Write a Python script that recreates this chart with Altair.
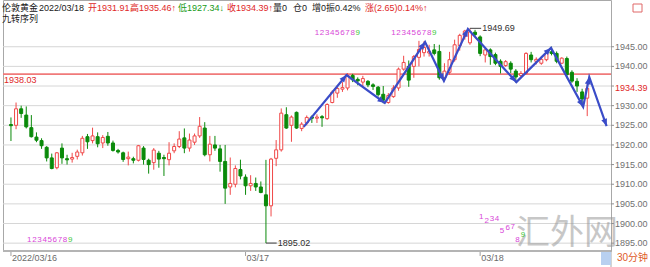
import math
import altair as alt
import pandas as pd

# ---------------- data ----------------
idx = list(range(114))
opens = [1925.2, 1925.0, 1929.2, 1927.6, 1924.4, 1922.0, 1921.1, 1919.4, 1916.7, 1914.2,
         1919.2, 1916.5, 1916.4, 1917.1, 1918.0, 1922.1, 1921.1, 1922.1, 1920.5, 1922.2,
         1920.5, 1918.6, 1918.0, 1916.5, 1916.5, 1916.1, 1919.2, 1916.1, 1915.5, 1917.9,
         1916.8, 1916.25, 1918.5, 1919.6, 1921.8, 1919.2, 1920.7, 1922.3, 1924.3, 1917.5,
         1920.0, 1919.0, 1915.8, 1909.3, 1910.0, 1913.75, 1911.8, 1909.6, 1910.2, 1909.3,
         1907.3, 1904.5, 1916.6, 1918.75, 1927.7, 1925.0, 1928.3, 1924.2, 1925.6, 1927.1,
         1926.8, 1927.2, 1926.7, 1930.8, 1933.2, 1934.2, 1934.5, 1937.7, 1936.7, 1936.0,
         1936.2, 1935.3, 1934.7, 1932.9, 1930.8, 1932.3, 1934.5, 1939.3, 1940.0, 1940.0,
         1942.3, 1943.5, 1943.4, 1944.2, 1943.8, 1937.1, 1938.5, 1941.7, 1945.3, 1947.6,
         1946.0, 1948.7, 1947.5, 1942.9, 1944.2, 1943.0, 1941.3, 1940.2, 1940.8, 1938.8,
         1937.7, 1938.2, 1942.9, 1941.3, 1940.8, 1941.7, 1943.7, 1943.3, 1940.8, 1942.0,
         1938.5, 1936.2, 1933.5, 1931.91]
highs = [1927.0, 1930.8, 1930.0, 1929.8, 1927.6, 1923.2, 1921.7, 1919.7, 1917.8, 1918.2,
         1920.4, 1917.5, 1918.0, 1918.8, 1922.3, 1922.8, 1924.4, 1923.2, 1922.5, 1923.3,
         1921.1, 1919.0, 1918.3, 1918.3, 1917.0, 1920.0, 1919.7, 1916.5, 1919.2, 1918.5,
         1917.5, 1920.7, 1920.4, 1923.5, 1924.2, 1922.9, 1922.9, 1927.1, 1925.8, 1922.3,
         1922.3, 1920.0, 1920.0, 1916.8, 1914.8, 1916.25, 1912.5, 1912.3, 1911.7, 1910.7,
         1916.2, 1916.7, 1921.25, 1929.3, 1929.6, 1927.5, 1928.5, 1925.8, 1927.5, 1927.5,
         1927.8, 1927.6, 1930.6, 1933.9, 1935.2, 1936.0, 1938.3, 1938.1, 1937.2, 1937.6,
         1936.5, 1935.7, 1935.0, 1935.0, 1933.2, 1935.2, 1939.7, 1942.7, 1941.5, 1942.9,
         1946.5, 1946.4, 1945.5, 1945.7, 1945.5, 1940.8, 1943.7, 1946.8, 1948.3, 1949.3,
         1949.69, 1949.3, 1947.9, 1944.6, 1944.6, 1943.5, 1941.8, 1941.6, 1941.3, 1939.3,
         1938.8, 1943.6, 1943.7, 1942.3, 1942.5, 1943.7, 1945.0, 1943.8, 1942.3, 1942.5,
         1939.0, 1937.0, 1934.3, 1935.46]
lows = [1921.0, 1924.0, 1926.9, 1924.2, 1921.9, 1920.7, 1919.0, 1915.8, 1913.8, 1913.8,
        1915.2, 1915.0, 1915.5, 1916.3, 1917.3, 1919.0, 1920.4, 1919.4, 1919.2, 1919.8,
        1918.3, 1917.8, 1915.7, 1914.8, 1915.3, 1915.8, 1915.0, 1912.7, 1913.7, 1914.2,
        1912.1, 1914.8, 1917.9, 1919.2, 1917.9, 1918.3, 1920.0, 1921.8, 1917.1, 1915.8,
        1918.5, 1913.2, 1905.0, 1907.3, 1909.2, 1911.25, 1907.3, 1908.3, 1908.3, 1907.7,
        1895.02, 1901.8, 1914.6, 1918.3, 1924.1, 1920.8, 1924.1, 1923.5, 1925.0, 1925.6,
        1925.6, 1924.6, 1926.4, 1930.6, 1932.0, 1933.5, 1933.9, 1936.0, 1935.2, 1935.0,
        1934.7, 1934.0, 1932.3, 1930.6, 1930.5, 1932.0, 1933.8, 1938.9, 1934.8, 1937.1,
        1940.0, 1942.5, 1942.5, 1942.8, 1936.6, 1936.2, 1937.9, 1941.2, 1944.0, 1946.8,
        1945.5, 1947.5, 1942.6, 1941.0, 1940.4, 1940.3, 1938.2, 1939.9, 1938.3, 1935.9,
        1937.0, 1937.9, 1941.0, 1940.5, 1940.4, 1941.3, 1942.8, 1940.8, 1940.6, 1937.0,
        1935.8, 1933.5, 1929.8, 1927.34]
closes = [1924.9, 1929.2, 1928.0, 1924.6, 1922.1, 1921.2, 1919.8, 1916.7, 1914.0, 1918.0,
          1916.7, 1916.2, 1916.8, 1918.2, 1921.7, 1920.8, 1922.3, 1920.3, 1921.9, 1920.5,
          1918.6, 1918.2, 1916.3, 1916.9, 1916.1, 1919.8, 1916.3, 1915.0, 1918.7, 1916.4,
          1916.5, 1917.9, 1919.6, 1921.5, 1919.2, 1921.25, 1922.3, 1924.75, 1917.5, 1920.2,
          1919.2, 1915.8, 1909.0, 1910.2, 1914.0, 1912.1, 1909.6, 1910.2, 1909.3, 1907.9,
          1904.5, 1916.4, 1918.75, 1928.1, 1924.3, 1927.1, 1924.3, 1925.3, 1927.0, 1926.8,
          1927.1, 1926.9, 1930.3, 1933.4, 1934.4, 1934.6, 1937.7, 1936.6, 1936.3, 1936.9,
          1935.3, 1934.9, 1932.8, 1931.4, 1932.6, 1934.5, 1939.3, 1941.0, 1936.5, 1942.5,
          1944.3, 1944.8, 1943.8, 1943.3, 1937.1, 1938.8, 1941.7, 1945.5, 1947.9, 1949.0,
          1948.8, 1948.1, 1943.3, 1944.2, 1942.5, 1940.8, 1940.0, 1941.2, 1939.3, 1937.3,
          1938.2, 1943.3, 1941.7, 1941.8, 1941.8, 1943.3, 1943.3, 1941.3, 1942.1, 1937.9,
          1936.25, 1935.0, 1931.7, 1934.39]

# zigzag (ZigZag arrows)
zz_idx = [57.4, 65.8, 73.3, 81.2, 84.9, 89.6, 99.1, 105.9, 112.2, 113.4, 116.8]
zz_val = [1924.6, 1937.8, 1930.7, 1946.2, 1936.3, 1949.5, 1936.0, 1944.7, 1929.7, 1937.3, 1924.8]

# 九转序列 counts
td_digits = ["1", "2", "3", "4", "5", "6", "7", "8", "9"]
td_top1_idx = [60, 61, 62, 63, 64, 65, 66, 67, 68]
td_top2_idx = [75, 76, 77, 78, 79, 80, 81, 82, 83]
td_top_val = 1948.5
td_bl_idx = [3.6, 4.6, 5.6, 6.6, 7.6, 8.6, 9.6, 10.6, 11.6]
td_bl_val = 1895.8
td_br_idx = [92.2, 93.3, 94.3, 95.3, 96.3, 97.4, 98.4, 99.3, 100.4]
td_br_val = [1901.6, 1900.6, 1901.1, 1901.1, 1898.1, 1898.8, 1899.1, 1895.8, 1897.1]

# extremes
ext_idx = [90, 50]
ext_val = [1949.69, 1895.02]
ext_end = [92.2, 52.1]
ext_txt_idx = [92.4, 52.3]
ext_dy = [0, -4]

ref_line = 1938.03
last_close = 1934.39
grid_vals = [1895, 1900, 1905, 1910, 1915, 1920, 1925, 1930, 1935, 1940, 1945]
label_vals = [1895, 1900, 1905, 1910, 1915, 1920, 1925, 1930, 1940, 1945]
date_idx = [0, 46, 92]
date_lbl = ["2022/03/16", "03/17", "03/18"]

RED = "#f04848"
GREEN = "#0a8a0a"
BLUE = "#3a4cc8"
TXTRED = "#e02828"
TXTGREEN = "#179a17"
MAG = "#d846d8"
TDGREEN = "#3cc83c"
FONT = "Liberation Sans, Noto Sans CJK SC"
HFONT = "Liberation Sans Narrow, Liberation Sans, Noto Sans CJK SC"

hdr_txt = ["伦敦黄金", "2022/03/18", "开1931.91↓", "高1935.46↑", "低1927.34↓", "收1934.39↑",
           "量0", "仓0", "增0", "振0.42%", "涨(2.65)0.14%↑", "九转序列"]
hdr_x = [-1, 36, 85, 127, 175, 224, 270, 290, 309, 323, 362, -1]
hdr_y = [8, 8, 8, 8, 8, 8, 8, 8, 8, 8, 8, 19]
hdr_col = ["#202020", "#202020", TXTRED, TXTRED, TXTGREEN, TXTRED,
           "#202020", "#202020", "#202020", "#202020", TXTRED, "#202020"]

# ---------------- frames ----------------
X_DOM = [-0.58, 116.68]
Y_DOM = [1893.0, 1956.9]
W, H = 608, 251
xs = alt.Scale(domain=X_DOM, nice=False, zero=False)
ys = alt.Scale(domain=Y_DOM, nice=False, zero=False)
px_x = W / (X_DOM[1] - X_DOM[0])
px_y = H / (Y_DOM[1] - Y_DOM[0])

df = pd.DataFrame({"i": idx, "o": opens, "h": highs, "l": lows, "c": closes})
df["dir"] = ["up" if c >= o else "down" for o, c in zip(opens, closes)]
df["top"] = df[["o", "c"]].max(axis=1)
df["bot"] = df[["o", "c"]].min(axis=1)

zz = pd.DataFrame({"i": zz_idx, "v": zz_val, "k": list(range(len(zz_idx)))})
heads = []
for k in range(1, len(zz_idx)):
    dx = (zz_idx[k] - zz_idx[k - 1]) * px_x
    dy = -(zz_val[k] - zz_val[k - 1]) * px_y
    ang = math.degrees(math.atan2(dx, -dy)) % 360
    heads.append({"i": zz_idx[k], "v": zz_val[k], "ang": ang})
heads = pd.DataFrame(heads)

td_rows = []
for d, i in zip(td_digits, td_top1_idx):
    td_rows.append({"i": i, "v": td_top_val, "t": d, "col": TDGREEN if d == "9" else MAG})
for d, i in zip(td_digits, td_top2_idx):
    td_rows.append({"i": i, "v": td_top_val, "t": d, "col": TDGREEN if d == "9" else MAG})
for d, i in zip(td_digits, td_bl_idx):
    td_rows.append({"i": i, "v": td_bl_val, "t": d, "col": TDGREEN if d == "9" else MAG})
for d, i, v in zip(td_digits, td_br_idx, td_br_val):
    td_rows.append({"i": i, "v": v, "t": d, "col": TDGREEN if d == "9" else MAG})
td = pd.DataFrame(td_rows)

ext = pd.DataFrame({"i": ext_idx, "v": ext_val, "e": ext_end, "ti": ext_txt_idx,
                    "t": [f"{v:.2f}" for v in ext_val], "dy": ext_dy})
hdr = pd.DataFrame({"t": hdr_txt, "px": hdr_x, "py": hdr_y, "col": hdr_col})
grid_df = pd.DataFrame({"v": grid_vals})
ylab_df = pd.DataFrame({"v": label_vals, "t": [f"{v:.2f}" for v in label_vals]})
date_df = pd.DataFrame({"i": date_idx, "t": date_lbl})

# ---------------- layers ----------------
grid = alt.Chart(grid_df).mark_rule(color="#d6d6d6", strokeWidth=1).encode(
    y=alt.Y("v:Q", scale=ys, axis=None))
yticks = alt.Chart(grid_df).mark_rule(color="#909090", strokeWidth=1).encode(
    x=alt.value(W), x2=alt.value(W + 3), y=alt.Y("v:Q", scale=ys, axis=None))
ylabels = alt.Chart(ylab_df).mark_text(
    align="left", baseline="middle", fontSize=9, font=FONT, color="#707070").encode(
    x=alt.value(W + 4), y=alt.Y("v:Q", scale=ys, axis=None), text="t:N")
right_ext = alt.Chart(pd.DataFrame({"a": [0]})).mark_rule(color="#a8a8a8", strokeWidth=1).encode(
    x=alt.value(W), y=alt.value(H), y2=alt.value(H + 16))

bottom_line = alt.Chart(pd.DataFrame({"a": [0]})).mark_rule(
    color="#b4b4b4", strokeWidth=2).encode(x=alt.value(0), x2=alt.value(W), y=alt.value(H))
xticks = alt.Chart(date_df).mark_rule(color="#a0a0a0", strokeWidth=1).encode(
    x=alt.X("i:Q", scale=xs, axis=None), y=alt.value(H + 1), y2=alt.value(H + 5))
xlabels = alt.Chart(date_df).mark_text(
    align="left", baseline="middle", dx=1, fontSize=9, font=FONT, color="#6a6a6a").encode(
    x=alt.X("i:Q", scale=xs, axis=None), y=alt.value(H + 7), text="t:N")

wick = alt.Chart(df).mark_rule(strokeWidth=1).encode(
    x=alt.X("i:Q", scale=xs, axis=None),
    y=alt.Y("l:Q", scale=ys, axis=None),
    y2="h:Q",
    color=alt.Color("dir:N", scale=alt.Scale(domain=["up", "down"], range=[RED, GREEN]),
                    legend=None),
)

body = alt.Chart(df).mark_bar(size=3, strokeWidth=1).encode(
    x=alt.X("i:Q", scale=xs, axis=None),
    y=alt.Y("bot:Q", scale=ys, axis=None),
    y2="top:Q",
    fill=alt.Fill("dir:N", scale=alt.Scale(domain=["up", "down"], range=["#ffffff", GREEN]),
                  legend=None),
    stroke=alt.Stroke("dir:N", scale=alt.Scale(domain=["up", "down"], range=[RED, GREEN]),
                      legend=None),
)

refl = alt.Chart(pd.DataFrame({"v": [ref_line]})).mark_rule(
    color="#f07a7a", strokeWidth=1.6).encode(y=alt.Y("v:Q", scale=ys, axis=None))
refl_txt = alt.Chart(pd.DataFrame({"v": [ref_line], "t": [f"{ref_line:.2f}"]})).mark_text(
    align="left", baseline="top", dx=0, dy=2, fontSize=9, font=FONT, color=TXTRED).encode(
    x=alt.value(1), y=alt.Y("v:Q", scale=ys, axis=None), text="t:N")

last_txt = alt.Chart(pd.DataFrame({"v": [last_close], "t": [f"{last_close:.2f}"]})).mark_text(
    align="left", baseline="middle", fontSize=9, font=FONT, color=TXTRED).encode(
    x=alt.value(W + 4), y=alt.Y("v:Q", scale=ys, axis=None), text="t:N")

zzline = alt.Chart(zz).mark_line(color=BLUE, strokeWidth=2.2).encode(
    x=alt.X("i:Q", scale=xs, axis=None), y=alt.Y("v:Q", scale=ys, axis=None), order="k:Q")
zzhead = alt.Chart(heads).mark_point(
    shape="M0,0L-0.6,1.45L0.6,1.45Z", filled=True, size=100, opacity=1, color=BLUE).encode(
    x=alt.X("i:Q", scale=xs, axis=None), y=alt.Y("v:Q", scale=ys, axis=None),
    angle=alt.Angle("ang:Q", scale=None))

tdtxt = alt.Chart(td).mark_text(fontSize=8, font=FONT, baseline="middle").encode(
    x=alt.X("i:Q", scale=xs, axis=None), y=alt.Y("v:Q", scale=ys, axis=None), text="t:N",
    color=alt.Color("col:N", scale=None))

extrule = alt.Chart(ext).mark_rule(color="#404040", strokeWidth=1).encode(
    x=alt.X("i:Q", scale=xs, axis=None), x2="e:Q", y=alt.Y("v:Q", scale=ys, axis=None))
exttxt = alt.Chart(ext).mark_text(align="left", baseline="middle", fontSize=9, font=FONT,
                                  color="#303030").encode(
    x=alt.X("ti:Q", scale=xs, axis=None), y=alt.Y("v:Q", scale=ys, axis=None),
    yOffset="dy:Q", text="t:N")

hdrtxt = alt.Chart(hdr).mark_text(align="left", baseline="middle", fontSize=9, font=HFONT).encode(
    x=alt.X("px:Q", scale=None), y=alt.Y("py:Q", scale=None), text="t:N",
    color=alt.Color("col:N", scale=None))

wm = alt.Chart(pd.DataFrame({"t": ["汇外网"]})).mark_text(
    fontSize=34, font="Noto Sans CJK SC", color="#9a9a9a", opacity=0.55,
    align="center", baseline="middle").encode(x=alt.value(564), y=alt.value(234), text="t:N")

period_box = alt.Chart(pd.DataFrame({"a": [0]})).mark_rect(color="#b8d0f0").encode(
    x=alt.value(598), x2=alt.value(608), y=alt.value(252), y2=alt.value(265))
period_txt = alt.Chart(pd.DataFrame({"t": ["30分钟"]})).mark_text(
    align="left", baseline="middle", fontSize=10, font=FONT, color="#e05a28").encode(
    x=alt.value(614), y=alt.value(258), text="t:N")
icon = alt.Chart(pd.DataFrame({"a": [0]})).mark_rect(
    fill="#ffffff", stroke="#e06868", strokeWidth=1).encode(
    x=alt.value(630), x2=alt.value(639), y=alt.value(4), y2=alt.value(12))

chart = alt.layer(
    grid, refl, bottom_line, right_ext, xticks, xlabels, yticks, ylabels,
    wick, body, zzline, zzhead, wm, tdtxt, extrule, exttxt, refl_txt, last_txt,
    hdrtxt, period_box, period_txt, icon
).properties(
    width=W, height=H,
    padding={"left": 3, "top": 0, "right": 39, "bottom": 16},
    autosize=alt.AutoSizeParams(type="none"),
    background="#ffffff",
).configure_view(stroke="#a8a8a8")

chart.save("out.html", embed_options={"renderer": "svg", "actions": False})
